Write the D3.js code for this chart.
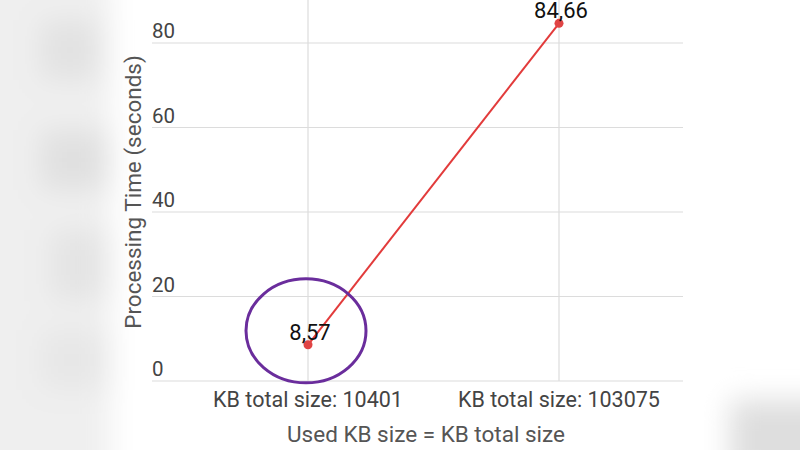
<!DOCTYPE html>
<html>
<head>
<meta charset="utf-8">
<script src="https://cdn.jsdelivr.net/npm/d3@7"></script>
<style>
  body { margin: 0; background: #fff; }
  svg { display: block; font-family: Roboto, "Noto Sans", sans-serif; }
</style>
</head>
<body>
<svg width="800" height="450"></svg>
<script>
const categories = ["KB total size: 10401", "KB total size: 103075"];
const values = [8.57, 84.66];
const valueLabels = ["8,57", "84,66"];
const yTicks = [0, 20, 40, 60, 80];

const svg = d3.select("svg");

// blurry photo background around the chart
const defs = svg.append("defs");
defs.append("filter").attr("id", "blur")
    .attr("x", "-50%").attr("y", "-50%").attr("width", "200%").attr("height", "200%")
    .append("feGaussianBlur").attr("stdDeviation", 14);

const bg = svg.append("g").attr("filter", "url(#blur)");
bg.append("rect").attr("x", -40).attr("y", -40).attr("width", 150).attr("height", 530).attr("fill", "#efefef");
bg.append("rect").attr("x", 40).attr("y", 20).attr("width", 60).attr("height", 60).attr("fill", "#e2e2e2");
bg.append("rect").attr("x", 40).attr("y", 130).attr("width", 70).attr("height", 60).attr("fill", "#e0e0e0");
bg.append("rect").attr("x", 50).attr("y", 230).attr("width", 60).attr("height", 70).attr("fill", "#e4e4e4");
bg.append("rect").attr("x", 40).attr("y", 330).attr("width", 70).attr("height", 60).attr("fill", "#e7e7e7");
bg.append("rect").attr("x", 730).attr("y", 400).attr("width", 120).attr("height", 80).attr("fill", "#dedede");
bg.append("rect").attr("x", 130).attr("y", -40).attr("width", 570).attr("height", 540).attr("fill", "#ffffff");

const x = d3.scalePoint().domain(categories).range([308, 559]);
const y = d3.scaleLinear().domain([0, 80]).range([381, 43]);

const gridLeft = 152, gridRight = 683;

// horizontal grid
svg.append("g").selectAll("line").data(yTicks).enter().append("line")
    .attr("x1", gridLeft).attr("x2", gridRight)
    .attr("y1", d => y(d)).attr("y2", d => y(d))
    .attr("stroke", "#dcdcdc").attr("stroke-width", 1.2);

// vertical grid
svg.append("g").selectAll("line").data(categories).enter().append("line")
    .attr("x1", d => x(d)).attr("x2", d => x(d))
    .attr("y1", 0).attr("y2", y(0))
    .attr("stroke", "#dcdcdc").attr("stroke-width", 1.2);

// y tick labels
svg.append("g").selectAll("text").data(yTicks).enter().append("text")
    .attr("x", gridLeft).attr("y", d => y(d) - 5)
    .attr("fill", "#444").attr("font-size", 20.5)
    .text(d => d);

// x tick labels
svg.append("g").selectAll("text").data(categories).enter().append("text")
    .attr("x", d => x(d)).attr("y", 407)
    .attr("text-anchor", "middle").attr("fill", "#444").attr("font-size", 21.5)
    .text(d => d);

// axis titles
svg.append("text")
    .attr("transform", "translate(141,192) rotate(-90)")
    .attr("text-anchor", "middle").attr("fill", "#555").attr("font-size", 22.5)
    .text("Processing Time (seconds)");

svg.append("text")
    .attr("x", 426).attr("y", 442)
    .attr("text-anchor", "middle").attr("fill", "#555").attr("font-size", 22.5)
    .text("Used KB size = KB total size");

// line + points
const line = d3.line()
    .x((d, i) => x(categories[i]))
    .y(d => y(d));

svg.append("path").datum(values)
    .attr("d", line).attr("fill", "none")
    .attr("stroke", "#e23b3b").attr("stroke-width", 2);

svg.append("g").selectAll("circle").data(values).enter().append("circle")
    .attr("cx", (d, i) => x(categories[i])).attr("cy", d => y(d))
    .attr("r", 4.5).attr("fill", "#e04444");

// value labels
svg.append("g").selectAll("text").data(values).enter().append("text")
    .attr("x", (d, i) => x(categories[i]) + 2).attr("y", d => y(d) - 5)
    .attr("text-anchor", "middle").attr("fill", "#111").attr("font-size", 22)
    .text((d, i) => valueLabels[i]);

// purple highlight ellipse around first point
svg.append("ellipse")
    .attr("cx", x(categories[0]) - 2).attr("cy", y(values[0]) - 14)
    .attr("rx", 60).attr("ry", 52)
    .attr("fill", "none").attr("stroke", "#6a2d9c").attr("stroke-width", 3);
</script>
</body>
</html>
